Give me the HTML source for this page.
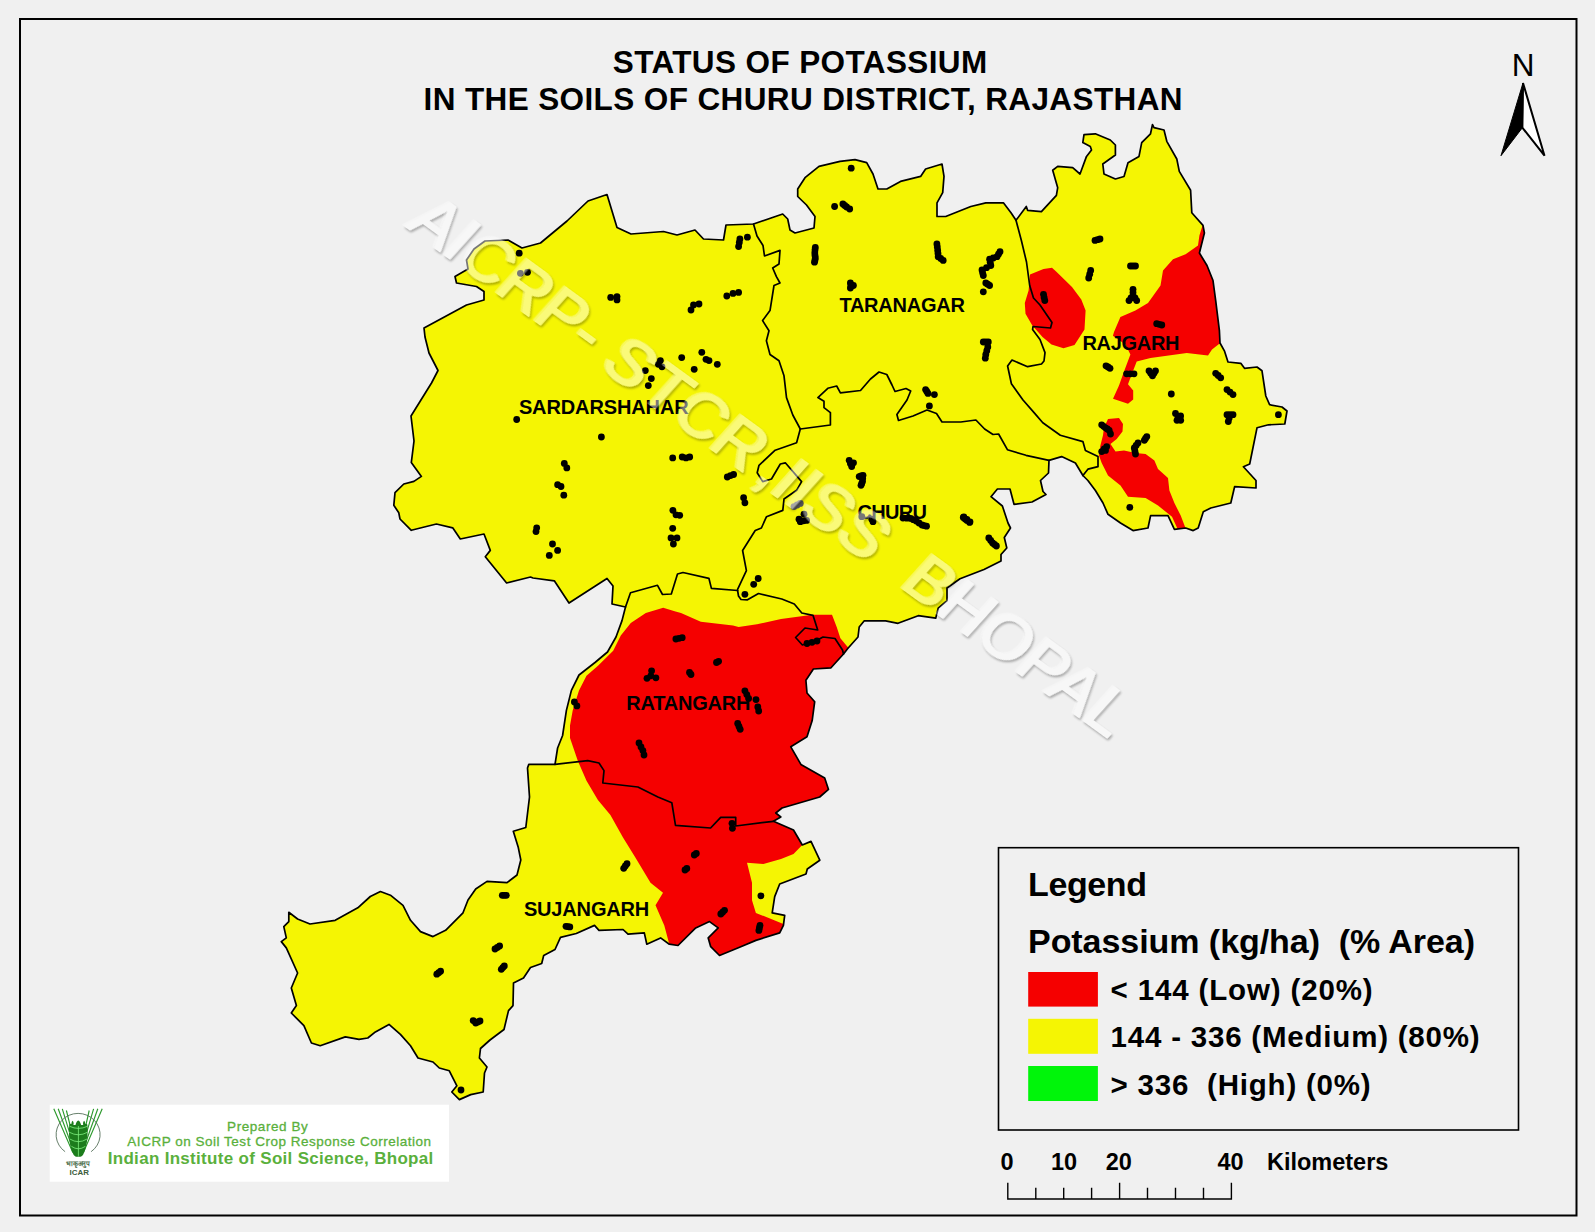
<!DOCTYPE html>
<html lang="en"><head><meta charset="utf-8"><title>Status of Potassium in the Soils of Churu District, Rajasthan</title>
<style>
html,body{margin:0;padding:0;background:#f0f0f0;}
body{width:1595px;height:1232px;overflow:hidden;position:relative;font-family:"Liberation Sans",Arial,sans-serif;}
svg{position:absolute;left:0;top:0;display:block}
text{font-family:"Liberation Sans",Arial,sans-serif}
.b{font-weight:bold}
</style></head><body>
<svg width="1595" height="1232" viewBox="0 0 1595 1232">
<defs>
<clipPath id="dc"><polygon points="607,194.5 617,227.5 631,234 663.5,231.5 677,235 695,230 703.5,239 723.5,240 726,225 753.5,224 782.7,214 787.7,219 790,230 795,233 814,228 815,216.5 806.5,205 797.7,196.5 797.7,189 805,177.7 819,166.4 840,161.4 855,159.6 866.7,162.6 873,174 878,189 886.8,189 900.5,181.4 920.6,176.4 925.6,169 942,164 944,176.4 942.7,192.7 937,202.8 937,216.5 945.7,216.5 970.8,206.5 985.8,202.8 1003.4,202.8 1011,212.8 1016,220.3 1026.3,206.5 1027.6,210.3 1041.4,211.6 1056.4,195.3 1057.7,187.7 1052.7,170.2 1057.7,166.4 1072.7,167.7 1080,174 1086.5,156.4 1091.5,150 1090.3,146.4 1082.8,142.6 1084,134.6 1095.3,133.8 1110.3,140 1115.4,145 1115.4,155 1102.8,164 1104,174 1115.4,179 1124,176.5 1128,162.7 1139,156.4 1141.7,142.6 1150.5,133.8 1152.5,124.5 1154,127.6 1164,130 1166.8,141.3 1176.8,159 1179.3,171.4 1190.6,190.3 1191.8,212.8 1203,225.4 1204.4,233 1199.4,253 1207,265.5 1213,280.5 1215.7,300.6 1219.4,330.7 1220,343 1224.4,350.8 1228,362 1240.8,363.3 1244.5,368.3 1257,367 1262,370.8 1265.8,396 1269.6,404.7 1282,407 1287,411 1284.8,424 1268.5,424.8 1257,427.8 1249.7,464 1243.4,466.7 1256,480.5 1256,488 1234.6,486.7 1230.8,503 1210.8,508 1203.3,511.8 1198.2,528 1193.2,530.6 1185.7,528 1174.4,529.4 1168,515.6 1150.6,515.6 1148,528 1133,530.6 1120.5,523 1108,514.3 1103,503 1095.4,490.5 1087.9,480.5 1082.9,475.5 1075.4,463 1061.6,456.6 1049,460.4 1048.5,473 1040.5,480.5 1043,491.5 1046,494.5 1032,502 1014,504.3 1010,489 997.4,489 991,496.7 1002.4,506 1008,523 1010.5,528 1004.3,537.5 1006.8,548 1001,554.5 1001,561 984,569.5 960,578.8 947,588 947,600.7 938.2,608.2 935.7,618.2 918.2,615.7 898,623.3 885.6,620.8 864.3,620.8 859.2,627 858,637 848,648.3 843.5,654 831,667.8 813.4,669 805.9,680.3 807,693 814.7,701.7 812.2,720.5 807,736.8 790.8,746.8 800.9,764.4 824.7,778 828.5,789.4 819.7,797 782,808 775.8,813 780.8,817 773.4,821.3 793.5,830 802.3,845 811,841.4 819.8,860.2 807.3,869 806,874 779.7,884 774.7,896.6 772.2,912.9 784.7,915.4 783.4,925.4 779.7,932.9 755.9,940.4 740.8,946.7 719.5,955.5 710.7,946.7 708.2,937.9 718.2,927.9 709.5,921.6 695.7,927.9 678,945.5 669.3,944.2 660.6,937.9 646.8,944.2 644.3,932.9 628,934.2 623,929.5 599,930.4 594.5,925.4 576.3,933.5 560.5,937.3 555,949.5 543.7,955.5 541.7,963.5 530.5,967.5 523.5,978 513.5,983 513,1005.6 508.5,1010.6 504,1029.5 490,1040 480.5,1048.5 479.4,1058 487,1067 484.5,1073 483.2,1092 470.7,1094.6 459.4,1099.6 451.8,1092 456.9,1085.8 449.3,1070.8 439.3,1068 433,1062 418,1058 410.5,1045.7 400.4,1034.4 389,1024.4 375.4,1031.9 367.8,1038 359,1039.4 345.3,1036.9 320.2,1045.7 311.4,1043 303.9,1025.6 291.3,1013 296.4,1005.6 291.3,988 297.6,973 286.3,947.9 281.3,941.6 286.3,937.9 283.8,926.6 288.8,921.6 288.8,912.3 297.6,919 310,924 335.2,920.3 357.8,907.8 370.3,896.5 380.4,891.5 390.4,895.2 403,905.3 410.5,920.3 420.5,931.6 433,936.6 445.6,930.3 463,912.8 468,900 475.7,889 487,881.4 507,882.7 517,875 520.8,860 518.3,847.6 513.3,831.3 525.8,827.5 529.5,797 527.5,768 528.8,764.4 555,764.4 557.6,748 562.6,735.5 566.4,710.4 571.4,690.4 579,675 595,662.5 607.5,652 616,637 622,620.6 625.5,607 612,604 613,586 607,578.5 569,603 554.3,580.8 533,578 530.5,577 506.6,583 485.3,556.7 490.3,550.4 484,534 460.3,539 452.7,527.8 436.4,524 411.3,530.3 400,519 398.8,512.8 393.8,505.3 395,492.7 403.8,484 413.9,481.4 421.4,476.4 411.3,462.6 414,441 411,416 431.5,383 438,370.5 429,353 425,337 424,328 466.5,305 484,300 484,291.5 476.5,286.5 456.5,283 455,276.5 468,269 466.5,260 474,249 485,241 508,240 522,248 540.5,243 567,221 588,201"/></clipPath>
<filter id="emb" filterUnits="userSpaceOnUse" x="-40" y="-120" width="1100" height="220" color-interpolation-filters="sRGB">
<feOffset in="SourceAlpha" dx="2.2" dy="0.6" result="off"/>
<feGaussianBlur in="off" stdDeviation="0.9" result="blur"/>
<feComposite in="blur" in2="SourceAlpha" operator="out" result="so"/>
<feComponentTransfer in="so" result="sh"><feFuncA type="linear" slope="0.3"/></feComponentTransfer>
<feOffset in="SourceAlpha" dx="-1.6" dy="-0.4" result="off2"/>
<feGaussianBlur in="off2" stdDeviation="0.7" result="blur2"/>
<feComposite in="blur2" in2="SourceAlpha" operator="out" result="so2"/>
<feColorMatrix in="so2" type="matrix" values="0 0 0 0 1  0 0 0 0 1  0 0 0 0 1  0 0 0 0.35 0" result="hl"/>
<feComponentTransfer in="SourceGraphic" result="main"><feFuncA type="linear" slope="0.47"/></feComponentTransfer>
<feMerge><feMergeNode in="sh"/><feMergeNode in="hl"/><feMergeNode in="main"/></feMerge>
</filter>
</defs>
<rect x="0" y="0" width="1595" height="1232" fill="#f0f0f0"/>
<rect x="20" y="19" width="1556.5" height="1196.5" fill="#f0f0f0" stroke="#000" stroke-width="2"/>
<text class="b" x="800" y="72.6" font-size="31.5" text-anchor="middle" textLength="374.5" lengthAdjust="spacing">STATUS OF POTASSIUM</text>
<text class="b" x="803" y="109.8" font-size="31.5" text-anchor="middle" textLength="759" lengthAdjust="spacing">IN THE SOILS OF CHURU DISTRICT, RAJASTHAN</text>
<polygon points="607,194.5 617,227.5 631,234 663.5,231.5 677,235 695,230 703.5,239 723.5,240 726,225 753.5,224 782.7,214 787.7,219 790,230 795,233 814,228 815,216.5 806.5,205 797.7,196.5 797.7,189 805,177.7 819,166.4 840,161.4 855,159.6 866.7,162.6 873,174 878,189 886.8,189 900.5,181.4 920.6,176.4 925.6,169 942,164 944,176.4 942.7,192.7 937,202.8 937,216.5 945.7,216.5 970.8,206.5 985.8,202.8 1003.4,202.8 1011,212.8 1016,220.3 1026.3,206.5 1027.6,210.3 1041.4,211.6 1056.4,195.3 1057.7,187.7 1052.7,170.2 1057.7,166.4 1072.7,167.7 1080,174 1086.5,156.4 1091.5,150 1090.3,146.4 1082.8,142.6 1084,134.6 1095.3,133.8 1110.3,140 1115.4,145 1115.4,155 1102.8,164 1104,174 1115.4,179 1124,176.5 1128,162.7 1139,156.4 1141.7,142.6 1150.5,133.8 1152.5,124.5 1154,127.6 1164,130 1166.8,141.3 1176.8,159 1179.3,171.4 1190.6,190.3 1191.8,212.8 1203,225.4 1204.4,233 1199.4,253 1207,265.5 1213,280.5 1215.7,300.6 1219.4,330.7 1220,343 1224.4,350.8 1228,362 1240.8,363.3 1244.5,368.3 1257,367 1262,370.8 1265.8,396 1269.6,404.7 1282,407 1287,411 1284.8,424 1268.5,424.8 1257,427.8 1249.7,464 1243.4,466.7 1256,480.5 1256,488 1234.6,486.7 1230.8,503 1210.8,508 1203.3,511.8 1198.2,528 1193.2,530.6 1185.7,528 1174.4,529.4 1168,515.6 1150.6,515.6 1148,528 1133,530.6 1120.5,523 1108,514.3 1103,503 1095.4,490.5 1087.9,480.5 1082.9,475.5 1075.4,463 1061.6,456.6 1049,460.4 1048.5,473 1040.5,480.5 1043,491.5 1046,494.5 1032,502 1014,504.3 1010,489 997.4,489 991,496.7 1002.4,506 1008,523 1010.5,528 1004.3,537.5 1006.8,548 1001,554.5 1001,561 984,569.5 960,578.8 947,588 947,600.7 938.2,608.2 935.7,618.2 918.2,615.7 898,623.3 885.6,620.8 864.3,620.8 859.2,627 858,637 848,648.3 843.5,654 831,667.8 813.4,669 805.9,680.3 807,693 814.7,701.7 812.2,720.5 807,736.8 790.8,746.8 800.9,764.4 824.7,778 828.5,789.4 819.7,797 782,808 775.8,813 780.8,817 773.4,821.3 793.5,830 802.3,845 811,841.4 819.8,860.2 807.3,869 806,874 779.7,884 774.7,896.6 772.2,912.9 784.7,915.4 783.4,925.4 779.7,932.9 755.9,940.4 740.8,946.7 719.5,955.5 710.7,946.7 708.2,937.9 718.2,927.9 709.5,921.6 695.7,927.9 678,945.5 669.3,944.2 660.6,937.9 646.8,944.2 644.3,932.9 628,934.2 623,929.5 599,930.4 594.5,925.4 576.3,933.5 560.5,937.3 555,949.5 543.7,955.5 541.7,963.5 530.5,967.5 523.5,978 513.5,983 513,1005.6 508.5,1010.6 504,1029.5 490,1040 480.5,1048.5 479.4,1058 487,1067 484.5,1073 483.2,1092 470.7,1094.6 459.4,1099.6 451.8,1092 456.9,1085.8 449.3,1070.8 439.3,1068 433,1062 418,1058 410.5,1045.7 400.4,1034.4 389,1024.4 375.4,1031.9 367.8,1038 359,1039.4 345.3,1036.9 320.2,1045.7 311.4,1043 303.9,1025.6 291.3,1013 296.4,1005.6 291.3,988 297.6,973 286.3,947.9 281.3,941.6 286.3,937.9 283.8,926.6 288.8,921.6 288.8,912.3 297.6,919 310,924 335.2,920.3 357.8,907.8 370.3,896.5 380.4,891.5 390.4,895.2 403,905.3 410.5,920.3 420.5,931.6 433,936.6 445.6,930.3 463,912.8 468,900 475.7,889 487,881.4 507,882.7 517,875 520.8,860 518.3,847.6 513.3,831.3 525.8,827.5 529.5,797 527.5,768 528.8,764.4 555,764.4 557.6,748 562.6,735.5 566.4,710.4 571.4,690.4 579,675 595,662.5 607.5,652 616,637 622,620.6 625.5,607 612,604 613,586 607,578.5 569,603 554.3,580.8 533,578 530.5,577 506.6,583 485.3,556.7 490.3,550.4 484,534 460.3,539 452.7,527.8 436.4,524 411.3,530.3 400,519 398.8,512.8 393.8,505.3 395,492.7 403.8,484 413.9,481.4 421.4,476.4 411.3,462.6 414,441 411,416 431.5,383 438,370.5 429,353 425,337 424,328 466.5,305 484,300 484,291.5 476.5,286.5 456.5,283 455,276.5 468,269 466.5,260 474,249 485,241 508,240 522,248 540.5,243 567,221 588,201" fill="#f5f503" stroke="none"/>
<g clip-path="url(#dc)" fill="#f50000" stroke="none">
<polygon points="1030,274.5 1043.5,269 1052,267.8 1056.4,271.8 1072,287 1081.3,299.5 1085.6,310.5 1084.5,329.5 1074.5,345 1063.5,348.2 1051.5,344.5 1042.5,337 1032.3,325.5 1025.5,313.7 1024.8,303 1028.6,290.5"/>
<polygon points="1203,224 1199.4,235.4 1198,245.4 1185.6,254.2 1173,259.2 1163,270.5 1160.5,285.5 1148,303 1135.4,310.6 1120.4,317 1114,332 1112.9,335.7 1125.4,344.5 1130.4,354.5 1124.2,371 1119,385.5 1113,398.7 1128,403.7 1133.2,399.4 1133.2,390.5 1128,384.3 1131.1,376 1136.7,361.5 1150.5,358 1186.8,353 1208,355.4 1212,349.5 1219,344 1230,343 1230,300 1225,265 1215,250 1212,224"/>
<polygon points="1108,419 1119,418 1123,424 1122.5,431.6 1116.7,439 1110.5,444 1115.5,451.6 1124,450.4 1135.5,453 1145.6,454 1154.4,460.4 1158,469 1168,478 1169.4,490.5 1174.4,503 1180.7,515.6 1187,532 1179,532 1172,516.8 1158,505.5 1145.6,498 1128,496.8 1120.5,485.5 1108,475.5 1101.7,463 1099,455.4 1100.4,445.4 1103,435.3 1104,427.8"/>
<polygon points="663.2,607.8 675.5,611.4 681,613 700.8,621.7 733,625.4 738.6,627 757,624.3 781,619 812.5,614.7 832,614.7 836.7,627 840.4,638.3 848.5,648 853,652 875,660 875,835 812,835 802.3,845 793.5,854 781,859 763.4,864 747,862.7 752,882.8 752,900.3 755.9,912.9 783.4,924 795,928 795,970 680,970 669.3,944.2 664.3,925.4 655.5,905.3 663,892.8 650.5,882.8 635.5,857.7 623,837.6 610.4,815 597.9,800 586.5,780.7 577.7,760.6 570,738 570,725.5 572.7,710.4 579,690.4 586.5,675.8 598,665.8 613.2,650.7 620.8,635.6 630.8,623 645.8,613"/>
</g>
<g fill="none" stroke="#000" stroke-width="1.7" stroke-linejoin="round" stroke-linecap="round">
<polygon points="607,194.5 617,227.5 631,234 663.5,231.5 677,235 695,230 703.5,239 723.5,240 726,225 753.5,224 782.7,214 787.7,219 790,230 795,233 814,228 815,216.5 806.5,205 797.7,196.5 797.7,189 805,177.7 819,166.4 840,161.4 855,159.6 866.7,162.6 873,174 878,189 886.8,189 900.5,181.4 920.6,176.4 925.6,169 942,164 944,176.4 942.7,192.7 937,202.8 937,216.5 945.7,216.5 970.8,206.5 985.8,202.8 1003.4,202.8 1011,212.8 1016,220.3 1026.3,206.5 1027.6,210.3 1041.4,211.6 1056.4,195.3 1057.7,187.7 1052.7,170.2 1057.7,166.4 1072.7,167.7 1080,174 1086.5,156.4 1091.5,150 1090.3,146.4 1082.8,142.6 1084,134.6 1095.3,133.8 1110.3,140 1115.4,145 1115.4,155 1102.8,164 1104,174 1115.4,179 1124,176.5 1128,162.7 1139,156.4 1141.7,142.6 1150.5,133.8 1152.5,124.5 1154,127.6 1164,130 1166.8,141.3 1176.8,159 1179.3,171.4 1190.6,190.3 1191.8,212.8 1203,225.4 1204.4,233 1199.4,253 1207,265.5 1213,280.5 1215.7,300.6 1219.4,330.7 1220,343 1224.4,350.8 1228,362 1240.8,363.3 1244.5,368.3 1257,367 1262,370.8 1265.8,396 1269.6,404.7 1282,407 1287,411 1284.8,424 1268.5,424.8 1257,427.8 1249.7,464 1243.4,466.7 1256,480.5 1256,488 1234.6,486.7 1230.8,503 1210.8,508 1203.3,511.8 1198.2,528 1193.2,530.6 1185.7,528 1174.4,529.4 1168,515.6 1150.6,515.6 1148,528 1133,530.6 1120.5,523 1108,514.3 1103,503 1095.4,490.5 1087.9,480.5 1082.9,475.5 1075.4,463 1061.6,456.6 1049,460.4 1048.5,473 1040.5,480.5 1043,491.5 1046,494.5 1032,502 1014,504.3 1010,489 997.4,489 991,496.7 1002.4,506 1008,523 1010.5,528 1004.3,537.5 1006.8,548 1001,554.5 1001,561 984,569.5 960,578.8 947,588 947,600.7 938.2,608.2 935.7,618.2 918.2,615.7 898,623.3 885.6,620.8 864.3,620.8 859.2,627 858,637 848,648.3 843.5,654 831,667.8 813.4,669 805.9,680.3 807,693 814.7,701.7 812.2,720.5 807,736.8 790.8,746.8 800.9,764.4 824.7,778 828.5,789.4 819.7,797 782,808 775.8,813 780.8,817 773.4,821.3 793.5,830 802.3,845 811,841.4 819.8,860.2 807.3,869 806,874 779.7,884 774.7,896.6 772.2,912.9 784.7,915.4 783.4,925.4 779.7,932.9 755.9,940.4 740.8,946.7 719.5,955.5 710.7,946.7 708.2,937.9 718.2,927.9 709.5,921.6 695.7,927.9 678,945.5 669.3,944.2 660.6,937.9 646.8,944.2 644.3,932.9 628,934.2 623,929.5 599,930.4 594.5,925.4 576.3,933.5 560.5,937.3 555,949.5 543.7,955.5 541.7,963.5 530.5,967.5 523.5,978 513.5,983 513,1005.6 508.5,1010.6 504,1029.5 490,1040 480.5,1048.5 479.4,1058 487,1067 484.5,1073 483.2,1092 470.7,1094.6 459.4,1099.6 451.8,1092 456.9,1085.8 449.3,1070.8 439.3,1068 433,1062 418,1058 410.5,1045.7 400.4,1034.4 389,1024.4 375.4,1031.9 367.8,1038 359,1039.4 345.3,1036.9 320.2,1045.7 311.4,1043 303.9,1025.6 291.3,1013 296.4,1005.6 291.3,988 297.6,973 286.3,947.9 281.3,941.6 286.3,937.9 283.8,926.6 288.8,921.6 288.8,912.3 297.6,919 310,924 335.2,920.3 357.8,907.8 370.3,896.5 380.4,891.5 390.4,895.2 403,905.3 410.5,920.3 420.5,931.6 433,936.6 445.6,930.3 463,912.8 468,900 475.7,889 487,881.4 507,882.7 517,875 520.8,860 518.3,847.6 513.3,831.3 525.8,827.5 529.5,797 527.5,768 528.8,764.4 555,764.4 557.6,748 562.6,735.5 566.4,710.4 571.4,690.4 579,675 595,662.5 607.5,652 616,637 622,620.6 625.5,607 612,604 613,586 607,578.5 569,603 554.3,580.8 533,578 530.5,577 506.6,583 485.3,556.7 490.3,550.4 484,534 460.3,539 452.7,527.8 436.4,524 411.3,530.3 400,519 398.8,512.8 393.8,505.3 395,492.7 403.8,484 413.9,481.4 421.4,476.4 411.3,462.6 414,441 411,416 431.5,383 438,370.5 429,353 425,337 424,328 466.5,305 484,300 484,291.5 476.5,286.5 456.5,283 455,276.5 468,269 466.5,260 474,249 485,241 508,240 522,248 540.5,243 567,221 588,201"/>
<polyline points="753.5,224 757,236 763,245.5 764.5,256 780,250.4 779,264 772.7,268 776.4,276.7 780,283 774,285.5 770,310.6 762.6,320.6 769,330.7 766.4,340.7 770,354.5 779,360.8 784,375.8 786.5,397.6 792.8,415 800.3,429"/>
<polyline points="800.3,429 796.6,442.7 775.2,450.2 759,465.3 757.2,472.8 762.7,481.6 771.5,479 780.3,464 785.3,462.8 801.6,481.6 796.6,490.3 784,499 782.8,510.4 766.5,516.7 761.4,528 755.2,530.5 742.6,550.5 746.4,570.6 737.6,589.4"/>
<polyline points="800.3,429 830.4,425 830.4,412.6 824,407.6 824,401.3 817.9,397.6 827.8,388.3 836.7,386 840.4,392.8 860.5,390.5 870.5,379 879,372 886.8,374.5 892,385 895,391.5 906,388.5 910.7,391 907,400 896.9,414.5 898.5,420.5 913,416 927,410 936.5,413.5 942,422 960.8,422 975.9,420 984.6,429 993,434.5 998.6,434 1007.4,449.7 1026,455.3 1049,460.4"/>
<polyline points="1016,220.3 1021.5,241 1026.5,262 1029.7,285.5 1033.5,298 1040,305 1052,322.5 1050.5,328 1033,326.5 1032.6,329.4 1040,339.5 1045,352.6 1044,361 1041.5,364 1027.6,366.7 1012,360 1007.6,366 1011.4,383.7 1023,400 1034.7,413.4 1042.8,422.8 1060.3,435.3 1082.9,441.6 1085.4,450.4 1098,456.6 1098,466.7 1087.9,469.2 1082.9,475.5"/>
<polyline points="625.5,607 630.5,592.8 657.5,585.3 662.5,594.5 671.3,594 677.5,574 683,572.5 708.9,578.3 711.4,588.4 737.6,590.5"/>
<polyline points="737.6,590.5 738.5,596 741,599.5 747.5,599.8 758.5,593.5 781.8,599 794.3,604 801.8,613 813,615.3 817.7,630 805,628 795.6,637.5 802.4,645 817.5,640 823,637 835,638.5 842.5,650 843.5,654"/>
<polyline points="555,764.4 587.7,760.6 599,763 604,770.6 602.8,783 637.9,787 657.9,797 671.8,802.7 675.5,825.4 710.6,828 720.7,817.3 735.7,817.3 735.7,826 773.4,821.3"/>
</g>
<g fill="#000">
<circle cx="519.2" cy="253.2" r="3.4"/><circle cx="520.4" cy="273.3" r="3.4"/><circle cx="527.5" cy="272.3" r="3.4"/><circle cx="610.7" cy="297.4" r="3.4"/><circle cx="617" cy="296.6" r="3.4"/><circle cx="617" cy="299.9" r="3.4"/><circle cx="691" cy="310" r="3.4"/><circle cx="693.5" cy="304.9" r="3.4"/><circle cx="699" cy="304" r="3.4"/><circle cx="726.8" cy="296" r="3.4"/><circle cx="733" cy="293.4" r="3.4"/><circle cx="738.6" cy="292.4" r="3.4"/><circle cx="747.4" cy="237.2" r="3.4"/><circle cx="739.9" cy="239" r="3.4"/><circle cx="738.6" cy="246.5" r="3.4"/><circle cx="739.3" cy="242.5" r="3.4"/><circle cx="701.8" cy="352.3" r="3.4"/><circle cx="706" cy="359.3" r="3.4"/><circle cx="709" cy="360.6" r="3.4"/><circle cx="717.3" cy="364.3" r="3.4"/><circle cx="681.7" cy="357.6" r="3.4"/><circle cx="694.2" cy="369.3" r="3.4"/><circle cx="658.4" cy="364.3" r="3.4"/><circle cx="662" cy="366.8" r="3.4"/><circle cx="660.4" cy="360.6" r="3.4"/><circle cx="645.3" cy="370.6" r="3.4"/><circle cx="651.3" cy="378.6" r="3.4"/><circle cx="648.3" cy="385.6" r="3.4"/><circle cx="516.7" cy="419.5" r="3.4"/><circle cx="601.4" cy="437" r="3.4"/><circle cx="672.7" cy="457.9" r="3.4"/><circle cx="682.2" cy="457" r="3.4"/><circle cx="686" cy="457.9" r="3.4"/><circle cx="689.7" cy="457" r="3.4"/><circle cx="564.3" cy="463.4" r="3.4"/><circle cx="566.8" cy="467.9" r="3.4"/><circle cx="727.3" cy="477" r="3.4"/><circle cx="733.6" cy="474.5" r="3.4"/><circle cx="730.5" cy="475.6" r="3.4"/><circle cx="557.6" cy="484.7" r="3.4"/><circle cx="561" cy="486.5" r="3.4"/><circle cx="563.8" cy="495.2" r="3.4"/><circle cx="743.6" cy="497.7" r="3.4"/><circle cx="744.9" cy="502.8" r="3.4"/><circle cx="672.9" cy="510.3" r="3.4"/><circle cx="676" cy="514.8" r="3.4"/><circle cx="679.7" cy="515.3" r="3.4"/><circle cx="672.7" cy="528.3" r="3.4"/><circle cx="671" cy="537.9" r="3.4"/><circle cx="677" cy="537.9" r="3.4"/><circle cx="673.4" cy="544" r="3.4"/><circle cx="536.7" cy="527.8" r="3.4"/><circle cx="536" cy="531.6" r="3.4"/><circle cx="552.5" cy="544" r="3.4"/><circle cx="557.6" cy="550.4" r="3.4"/><circle cx="549.3" cy="555.4" r="3.4"/><circle cx="758.2" cy="578.5" r="3.4"/><circle cx="753.7" cy="584.3" r="3.4"/><circle cx="744.9" cy="594.3" r="3.4"/><circle cx="675.9" cy="639" r="3.4"/><circle cx="682.2" cy="637.7" r="3.4"/><circle cx="679" cy="638.3" r="3.4"/><circle cx="718.6" cy="661.3" r="3.4"/><circle cx="716.5" cy="662.5" r="3.4"/><circle cx="691" cy="674.5" r="3.4"/><circle cx="689.5" cy="672.5" r="3.4"/><circle cx="651.6" cy="670.8" r="3.4"/><circle cx="647" cy="678.3" r="3.4"/><circle cx="655.9" cy="677.8" r="3.4"/><circle cx="650.8" cy="675.8" r="3.4"/><circle cx="574.4" cy="702" r="3.4"/><circle cx="576.9" cy="705.9" r="3.4"/><circle cx="744.9" cy="690.8" r="3.4"/><circle cx="748.6" cy="698.4" r="3.4"/><circle cx="746.8" cy="694.6" r="3.4"/><circle cx="756" cy="699.6" r="3.4"/><circle cx="758.7" cy="711" r="3.4"/><circle cx="757.8" cy="707" r="3.4"/><circle cx="737.7" cy="723.5" r="3.4"/><circle cx="740.2" cy="729.3" r="3.4"/><circle cx="739" cy="726.4" r="3.4"/><circle cx="807" cy="643.5" r="3.4"/><circle cx="817" cy="641" r="3.4"/><circle cx="812" cy="642.3" r="3.4"/><circle cx="639" cy="743" r="3.4"/><circle cx="642.9" cy="750.6" r="3.4"/><circle cx="644" cy="755" r="3.4"/><circle cx="641" cy="747" r="3.4"/><circle cx="732" cy="823.3" r="3.4"/><circle cx="732.4" cy="828.3" r="3.4"/><circle cx="696.3" cy="853.4" r="3.4"/><circle cx="694.3" cy="855" r="3.4"/><circle cx="686.8" cy="868.4" r="3.4"/><circle cx="685" cy="870" r="3.4"/><circle cx="625.3" cy="866" r="3.4"/><circle cx="623.7" cy="868.3" r="3.4"/><circle cx="627" cy="863.7" r="3.4"/><circle cx="760.9" cy="895.8" r="3.4"/><circle cx="724.5" cy="910.3" r="3.4"/><circle cx="720.8" cy="914" r="3.4"/><circle cx="722.6" cy="912.2" r="3.4"/><circle cx="760" cy="925.4" r="3.4"/><circle cx="758.9" cy="930.4" r="3.4"/><circle cx="759.4" cy="928" r="3.4"/><circle cx="504.3" cy="895.3" r="3.4"/><circle cx="502.3" cy="895.3" r="3.4"/><circle cx="506.3" cy="895.3" r="3.4"/><circle cx="567.8" cy="926.6" r="3.4"/><circle cx="566" cy="926.3" r="3.4"/><circle cx="569.8" cy="926.9" r="3.4"/><circle cx="495" cy="949" r="3.4"/><circle cx="499.6" cy="946" r="3.4"/><circle cx="497.3" cy="947.5" r="3.4"/><circle cx="501.3" cy="969.3" r="3.4"/><circle cx="504.3" cy="966" r="3.4"/><circle cx="502.8" cy="967.6" r="3.4"/><circle cx="480" cy="1021" r="3.4"/><circle cx="473.2" cy="1020.6" r="3.4"/><circle cx="475.7" cy="1023" r="3.4"/><circle cx="477.8" cy="1022" r="3.4"/><circle cx="436.8" cy="974.2" r="3.4"/><circle cx="440.6" cy="971.2" r="3.4"/><circle cx="438.7" cy="972.7" r="3.4"/><circle cx="461" cy="1090" r="3.4"/><circle cx="851.2" cy="168.2" r="3.4"/><circle cx="834.6" cy="206.5" r="3.4"/><circle cx="842.9" cy="204" r="3.4"/><circle cx="846.6" cy="207" r="3.4"/><circle cx="849.7" cy="209" r="3.4"/><circle cx="844.7" cy="205.5" r="3.4"/><circle cx="815.3" cy="247.4" r="3.4"/><circle cx="814.8" cy="252.9" r="3.4"/><circle cx="815.3" cy="257.9" r="3.4"/><circle cx="814.5" cy="262.2" r="3.4"/><circle cx="815" cy="250" r="3.4"/><circle cx="815" cy="255.4" r="3.4"/><circle cx="815" cy="260" r="3.4"/><circle cx="850.4" cy="283" r="3.4"/><circle cx="853.4" cy="285.5" r="3.4"/><circle cx="850.4" cy="288" r="3.4"/><circle cx="851" cy="285.5" r="3.4"/><circle cx="936.9" cy="244" r="3.4"/><circle cx="937.7" cy="250.4" r="3.4"/><circle cx="938.2" cy="256.7" r="3.4"/><circle cx="943.2" cy="260.4" r="3.4"/><circle cx="937.3" cy="247" r="3.4"/><circle cx="938" cy="253.5" r="3.4"/><circle cx="940.7" cy="258.5" r="3.4"/><circle cx="1000" cy="251.7" r="3.4"/><circle cx="997" cy="256.7" r="3.4"/><circle cx="989.6" cy="259.2" r="3.4"/><circle cx="990.8" cy="265.5" r="3.4"/><circle cx="982" cy="270" r="3.4"/><circle cx="983.3" cy="275.5" r="3.4"/><circle cx="985.8" cy="283" r="3.4"/><circle cx="989.6" cy="285.5" r="3.4"/><circle cx="983.3" cy="291.8" r="3.4"/><circle cx="998.5" cy="254.2" r="3.4"/><circle cx="993.3" cy="258" r="3.4"/><circle cx="990.2" cy="262.3" r="3.4"/><circle cx="986.5" cy="267.7" r="3.4"/><circle cx="982.6" cy="272.7" r="3.4"/><circle cx="987.7" cy="284.2" r="3.4"/><circle cx="983.3" cy="342" r="3.4"/><circle cx="988.3" cy="342" r="3.4"/><circle cx="987.8" cy="347" r="3.4"/><circle cx="985.8" cy="354.5" r="3.4"/><circle cx="985.3" cy="358.2" r="3.4"/><circle cx="985.8" cy="342" r="3.4"/><circle cx="986.8" cy="350.7" r="3.4"/><circle cx="925.6" cy="389.6" r="3.4"/><circle cx="928" cy="393.4" r="3.4"/><circle cx="934.4" cy="394.6" r="3.4"/><circle cx="926.8" cy="391.5" r="3.4"/><circle cx="929.4" cy="405.9" r="3.4"/><circle cx="1043.5" cy="294.3" r="3.4"/><circle cx="1044.8" cy="300.6" r="3.4"/><circle cx="1044.1" cy="297.4" r="3.4"/><circle cx="1095" cy="240.4" r="3.4"/><circle cx="1100" cy="239" r="3.4"/><circle cx="1097.5" cy="239.7" r="3.4"/><circle cx="1090.7" cy="270.5" r="3.4"/><circle cx="1088.7" cy="278" r="3.4"/><circle cx="1089.7" cy="274.2" r="3.4"/><circle cx="1106" cy="365.8" r="3.4"/><circle cx="1110" cy="368.3" r="3.4"/><circle cx="1108" cy="367" r="3.4"/><circle cx="1133" cy="266" r="3.4"/><circle cx="1130.5" cy="266" r="3.4"/><circle cx="1135.5" cy="266" r="3.4"/><circle cx="1133" cy="289.3" r="3.4"/><circle cx="1129" cy="300.6" r="3.4"/><circle cx="1136.7" cy="300.6" r="3.4"/><circle cx="1133" cy="295.6" r="3.4"/><circle cx="1131" cy="298" r="3.4"/><circle cx="1135" cy="298" r="3.4"/><circle cx="1133" cy="292.4" r="3.4"/><circle cx="1156.7" cy="323.7" r="3.4"/><circle cx="1161.8" cy="325" r="3.4"/><circle cx="1159.2" cy="324.3" r="3.4"/><circle cx="1126.6" cy="373.8" r="3.4"/><circle cx="1134" cy="373.8" r="3.4"/><circle cx="1130.3" cy="373.8" r="3.4"/><circle cx="1149" cy="370.8" r="3.4"/><circle cx="1155.5" cy="370.8" r="3.4"/><circle cx="1152.5" cy="375.8" r="3.4"/><circle cx="1150.7" cy="373.3" r="3.4"/><circle cx="1154" cy="373.3" r="3.4"/><circle cx="1215.7" cy="373.3" r="3.4"/><circle cx="1220.7" cy="377.8" r="3.4"/><circle cx="1218.2" cy="375.5" r="3.4"/><circle cx="1171.3" cy="394" r="3.4"/><circle cx="1227" cy="389.6" r="3.4"/><circle cx="1233" cy="394.6" r="3.4"/><circle cx="1230" cy="392.1" r="3.4"/><circle cx="1175.5" cy="413.4" r="3.4"/><circle cx="1180.6" cy="416" r="3.4"/><circle cx="1177" cy="420.3" r="3.4"/><circle cx="1180.7" cy="420.3" r="3.4"/><circle cx="1178" cy="416.7" r="3.4"/><circle cx="1227" cy="414.7" r="3.4"/><circle cx="1233" cy="414.7" r="3.4"/><circle cx="1230" cy="414.7" r="3.4"/><circle cx="1228.3" cy="421.5" r="3.4"/><circle cx="1229.2" cy="418" r="3.4"/><circle cx="1278.4" cy="414.7" r="3.4"/><circle cx="1101.7" cy="424.8" r="3.4"/><circle cx="1105.5" cy="427.8" r="3.4"/><circle cx="1109.2" cy="430.3" r="3.4"/><circle cx="1110.5" cy="434" r="3.4"/><circle cx="1103.6" cy="426.3" r="3.4"/><circle cx="1107.3" cy="429" r="3.4"/><circle cx="1146.8" cy="436.6" r="3.4"/><circle cx="1144.3" cy="440.3" r="3.4"/><circle cx="1145.5" cy="438.4" r="3.4"/><circle cx="1138" cy="442.9" r="3.4"/><circle cx="1134.3" cy="447.9" r="3.4"/><circle cx="1135.5" cy="454" r="3.4"/><circle cx="1136.1" cy="445.4" r="3.4"/><circle cx="1134.9" cy="451" r="3.4"/><circle cx="1106.7" cy="446.6" r="3.4"/><circle cx="1101.7" cy="451.6" r="3.4"/><circle cx="1105.5" cy="450.4" r="3.4"/><circle cx="1104.2" cy="449" r="3.4"/><circle cx="1129.8" cy="507.3" r="3.4"/><circle cx="963.8" cy="516.8" r="3.4"/><circle cx="970" cy="521.8" r="3.4"/><circle cx="966.9" cy="519.3" r="3.4"/><circle cx="988.8" cy="538" r="3.4"/><circle cx="992.6" cy="543" r="3.4"/><circle cx="996.4" cy="546" r="3.4"/><circle cx="990.7" cy="540.5" r="3.4"/><circle cx="994.5" cy="544.5" r="3.4"/><circle cx="849.2" cy="460.3" r="3.4"/><circle cx="851.7" cy="466.5" r="3.4"/><circle cx="853.5" cy="462.8" r="3.4"/><circle cx="850.4" cy="463.4" r="3.4"/><circle cx="859.2" cy="476.6" r="3.4"/><circle cx="863" cy="475.3" r="3.4"/><circle cx="862.5" cy="481.6" r="3.4"/><circle cx="861" cy="485.3" r="3.4"/><circle cx="861" cy="476" r="3.4"/><circle cx="862.7" cy="478.4" r="3.4"/><circle cx="861.7" cy="483.4" r="3.4"/><circle cx="804" cy="514.2" r="3.4"/><circle cx="799" cy="519.2" r="3.4"/><circle cx="806.6" cy="520.4" r="3.4"/><circle cx="800.3" cy="521.7" r="3.4"/><circle cx="803.4" cy="520.8" r="3.4"/><circle cx="861.8" cy="516.7" r="3.4"/><circle cx="871.8" cy="519.2" r="3.4"/><circle cx="873" cy="521.7" r="3.4"/><circle cx="903" cy="518" r="3.4"/><circle cx="910.7" cy="518.4" r="3.4"/><circle cx="916.2" cy="521" r="3.4"/><circle cx="922" cy="525" r="3.4"/><circle cx="926.5" cy="526.2" r="3.4"/><circle cx="906.8" cy="518.2" r="3.4"/><circle cx="913.4" cy="519.7" r="3.4"/><circle cx="919" cy="523" r="3.4"/><circle cx="924.2" cy="525.6" r="3.4"/><circle cx="963.3" cy="517.4" r="3.4"/><circle cx="967" cy="520.4" r="3.4"/><circle cx="969.6" cy="522.4" r="3.4"/><circle cx="965.1" cy="518.9" r="3.4"/>
</g>
<g fill="#555">
<circle cx="794" cy="506.6" r="3.4"/><circle cx="800.3" cy="503.4" r="3.4"/><circle cx="797.2" cy="505" r="3.4"/>
</g>
<text class="b" x="518.9" y="413.5" font-size="20" textLength="169.8" lengthAdjust="spacing">SARDARSHAHAR</text>
<text class="b" x="839.4" y="311.6" font-size="20" textLength="125.6" lengthAdjust="spacing">TARANAGAR</text>
<text class="b" x="1082.4" y="350.4" font-size="20" textLength="97.1" lengthAdjust="spacing">RAJGARH</text>
<text class="b" x="857.5" y="519.3" font-size="20" textLength="69.5" lengthAdjust="spacing">CHURU</text>
<text class="b" x="626.3" y="709.6" font-size="20" textLength="124.2" lengthAdjust="spacing">RATANGARH</text>
<text class="b" x="523.9" y="915.5" font-size="20" textLength="125.4" lengthAdjust="spacing">SUJANGARH</text>
<g transform="translate(405,225.8) scale(1,0.9) rotate(39)" font-size="68" filter="url(#emb)">
<text y="0" fill="#fff" stroke="#fff" stroke-width="2.0" stroke-linejoin="round" xml:space="preserve" style="white-space:pre"><tspan x="0">AICRP- </tspan><tspan x="249">S</tspan><tspan x="298">TCR</tspan><tspan x="448">,IISS </tspan><tspan x="635">BHOPAL</tspan></text>
</g>
<text x="1523.2" y="76.4" font-size="31.5" text-anchor="middle">N</text>
<polygon points="1523,83 1544.5,155.7 1522.4,127.7" fill="#fff" stroke="#000" stroke-width="2" stroke-linejoin="miter"/>
<polygon points="1523,83 1501,155.7 1522.4,127.7" fill="#000" stroke="#000" stroke-width="1"/>
<rect x="998.5" y="847.7" width="520" height="282.3" fill="#f0f0f0" stroke="#000" stroke-width="1.6"/>
<text class="b" x="1028" y="895.9" font-size="34" textLength="119" lengthAdjust="spacing">Legend</text>
<text class="b" x="1028" y="952.6" font-size="34" textLength="447" lengthAdjust="spacing" xml:space="preserve" style="white-space:pre">Potassium (kg/ha)  (% Area)</text>
<rect x="1028.2" y="972" width="69.7" height="34.6" fill="#f50000"/>
<rect x="1028.2" y="1018.8" width="69.7" height="35" fill="#f5f503"/>
<rect x="1028.2" y="1066" width="69.7" height="35" fill="#00f50a"/>
<text class="b" x="1110.6" y="1000.3" font-size="29.5" textLength="262" lengthAdjust="spacing">&lt; 144 (Low) (20%)</text>
<text class="b" x="1110.6" y="1047.2" font-size="29.5" textLength="369" lengthAdjust="spacing">144 - 336 (Medium) (80%)</text>
<text class="b" x="1110.6" y="1094.6" font-size="29.5" textLength="260" lengthAdjust="spacing" xml:space="preserve" style="white-space:pre">&gt; 336  (High) (0%)</text>
<g class="b" font-size="23.5" text-anchor="middle"><text x="1007" y="1169.6">0</text><text x="1064" y="1169.6">10</text><text x="1118.8" y="1169.6">20</text><text x="1230.6" y="1169.6">40</text><text x="1267" y="1169.6" text-anchor="start" textLength="121.4" lengthAdjust="spacing">Kilometers</text></g>
<path d="M1007.8,1182.8 V1199 H1231.4 V1182.8 M1119.6,1182.8 V1199 M1035.8,1187.8 V1199 M1063.7,1187.8 V1199 M1091.6,1187.8 V1199 M1147.5,1187.8 V1199 M1175.5,1187.8 V1199 M1203.5,1187.8 V1199 " fill="none" stroke="#000" stroke-width="1.4"/>
<rect x="49.7" y="1104.7" width="399.3" height="77" fill="#fff"/>
<g fill="#5ab03c">
<text x="267.4" y="1131.2" font-size="13.5" text-anchor="middle" textLength="80.6" lengthAdjust="spacing" stroke="#5ab03c" stroke-width="0.3">Prepared By</text>
<text x="279.2" y="1145.6" font-size="13.5" text-anchor="middle" textLength="303.7" lengthAdjust="spacing" stroke="#5ab03c" stroke-width="0.3">AICRP on Soil Test Crop Response Correlation</text>
<text class="b" x="107.7" y="1163.7" font-size="17" textLength="325.6" lengthAdjust="spacing">Indian Institute of Soil Science, Bhopal</text>
</g>
<g fill="none" stroke="#2e9a2e" stroke-width="1.15" stroke-linecap="butt">
<path d="M53.8,1108.8 L72.8,1152.5 M58.2,1108.8 L74.6,1153.5 M62.3,1108.8 L76.2,1154.2 M66.4,1110.5 L77.4,1154.6 M102.2,1108.8 L83.4,1152.5 M97.8,1108.8 L81.8,1153.5 M93.6,1108.8 L80.3,1154.2 M89.2,1110.5 L79.2,1154.6"/>
</g>
<path d="M65.1,1151.7 A22,21.2 0 1 1 91.1,1151.7" fill="none" stroke="#56705a" stroke-width="0.9"/>
<g fill="#1c7c1c" stroke="none">
<path d="M69.3,1124.5 C70.5,1123.2 72.5,1123.5 73,1125 L75.5,1125 C76,1123 77,1121 78.3,1120.6 C79.6,1121 80.6,1123 81.1,1125 L83.6,1125 C84.1,1123.5 86.1,1123.2 87.3,1124.5 C88.3,1135 87,1148 83,1155 C81.5,1156.8 79.5,1157 78.3,1156.6 C77,1157 75.2,1156.8 73.7,1155 C69.6,1148 68.3,1135 69.3,1124.5 Z"/>
<path d="M72.2,1125.5 C71.2,1123.8 71.3,1122 72.6,1120.8 C73.8,1122 74,1124 73.2,1125.5 Z M83.5,1125.5 C82.7,1124 82.9,1122 84.1,1120.8 C85.4,1122 85.5,1123.8 84.5,1125.5 Z"/>
</g>
<g fill="none" stroke="#86f786" stroke-width="0.75" stroke-linecap="round">
<path d="M78.4,1126.5 V1155.5 M70,1126.5 Q78.4,1130.5 87,1126.5 M69.6,1132.4 Q78.4,1137.4 87.2,1132.4 M70.3,1139.3 Q78.4,1144.3 86.5,1139.3 M71.8,1146.6 Q78.4,1151.2 85,1146.6"/>
</g>
<g stroke="none">
<text x="78.1" y="1166" font-size="7" fill="#4d6e4d" text-anchor="middle" font-weight="bold" font-family="'Liberation Sans','Noto Sans CJK SC',sans-serif" textLength="23.5" lengthAdjust="spacingAndGlyphs">भाकृअनुप</text>
<text x="79.2" y="1174.6" font-size="6.6" fill="#3c5c3c" text-anchor="middle" font-weight="bold" font-family="'Liberation Serif',serif" textLength="19.3" lengthAdjust="spacingAndGlyphs">ICAR</text>
</g>
</svg>
</body></html>
